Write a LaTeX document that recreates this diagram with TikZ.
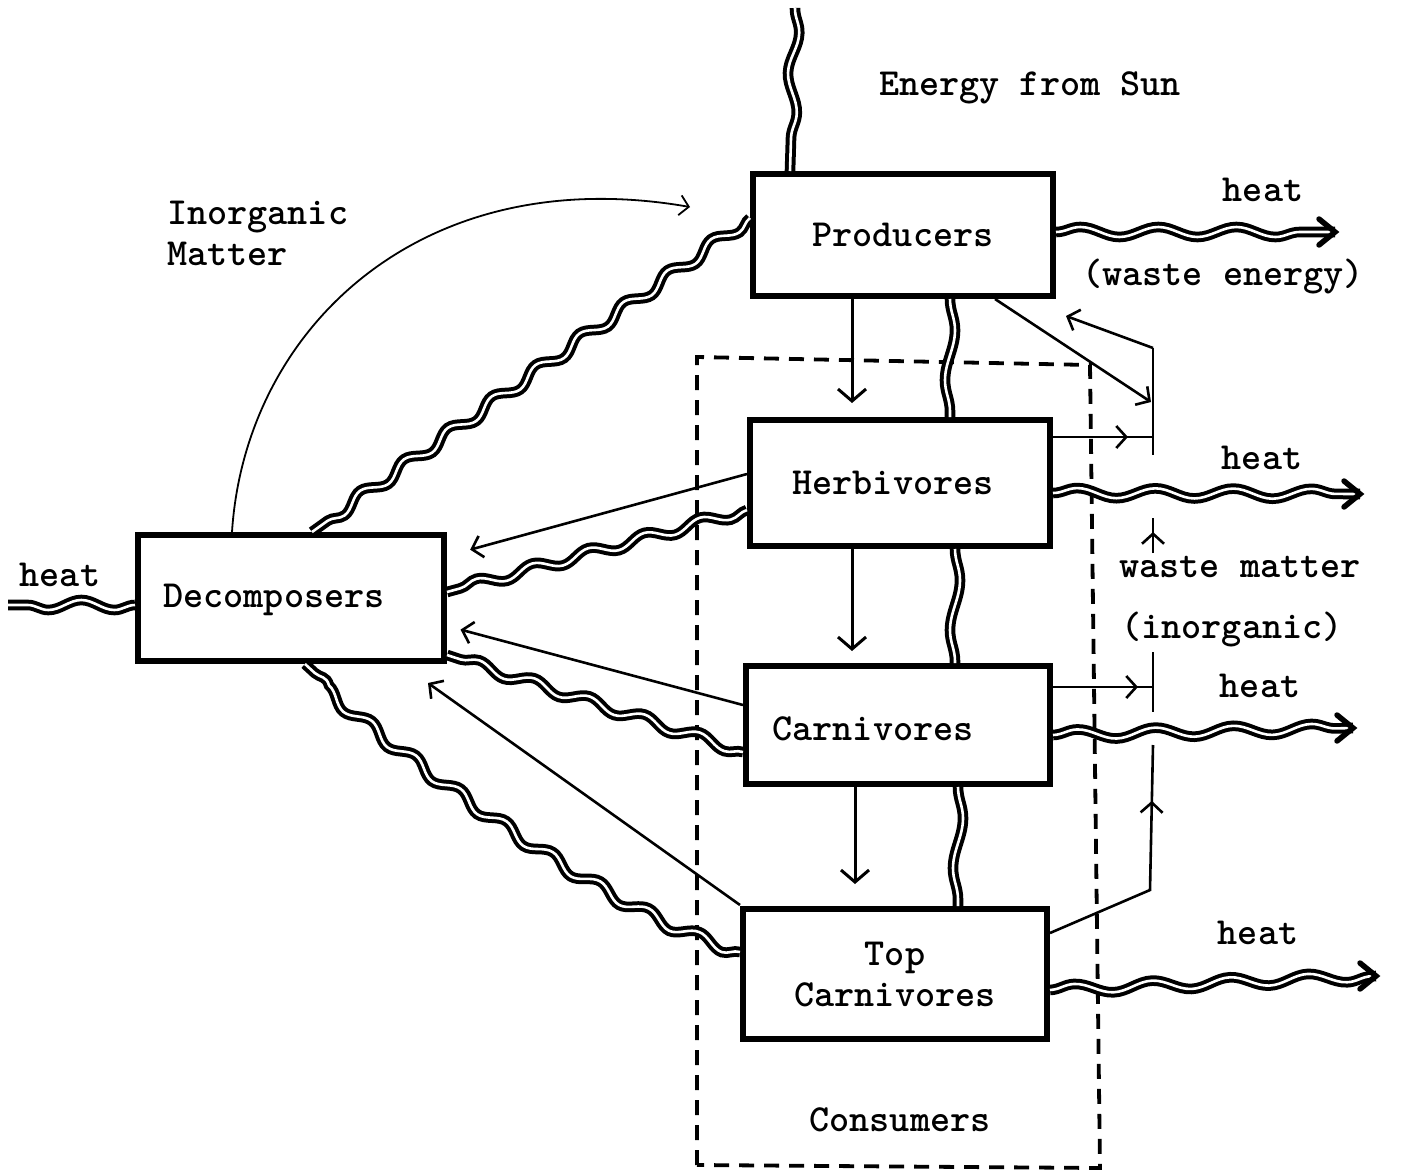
\documentclass[tikz,border=0pt]{standalone}
\usepackage{fontspec}
\setmainfont{lmmonolt10-bold.otf}
\usetikzlibrary{decorations.pathmorphing,decorations.markings,arrows.meta,calc}
\begin{document}
\begin{tikzpicture}[x=1pt,y=-1pt,
  lbl/.style={font=\fontsize{38.3}{41}\selectfont, inner sep=0pt},
  box/.style={draw, line width=6pt, inner sep=0pt, font=\fontsize{38.3}{41}\selectfont, align=center},
  wave/.style={decorate, decoration={snake, amplitude=5pt, segment length=62pt}, double=white, double distance=2.6pt, line width=4pt},
  heathead/.style={line width=5.5pt, line join=miter, line cap=round},
  arr/.style={line width=3pt, -{Straight Barb[length=12pt,width=28pt]}},
  sarr/.style={line width=2.6pt, -{Straight Barb[length=10pt,width=22pt]}},
  ln/.style={line width=2.6pt},
  midarr/.style={ln, postaction={decorate}, decoration={markings, mark=at position #1 with {\arrow{Straight Barb[length=10pt,width=22pt]}}}},
  midarr/.default=0.7,
  dashbox/.style={line width=3.8pt, dash pattern=on 15pt off 10pt},
]
\useasboundingbox (0,0) rectangle (1408,1175);

% boxes
\node[box, minimum width=300pt, minimum height=122pt] (prod) at (903,235) {Producers};
\node[box, minimum width=300pt, minimum height=126pt] (herb) at (900,483) {};
\node[lbl] (herblbl) at (893,483) {Herbivores};
\node[box, minimum width=304pt, minimum height=118pt] (carn) at (898,725) {};
\node[lbl] (carnlbl) at (873,729) {Carnivores};
\node[box, minimum width=304pt, minimum height=130pt] (top) at (895,974) {Top\\Carnivores};
\node[box, minimum width=306pt, minimum height=126pt] (dec) at (291,598) {};
\node[lbl] (declbl) at (274,600) {Decomposers};

% consumers dashed box
\draw[dashbox] (697,1165) -- (697,357) -- (1090,365) -- (1100,1168) -- cycle;
\node[lbl] (cons) at (900,1120) {Consumers};

% labels
\node[lbl] (sunlbl) at (1030,88) {Energy from Sun};
\node[lbl, align=left, anchor=west] (inorg) at (167,233) {Inorganic\\Matter};
\node[lbl] (h1) at (1263,190) {heat};
\node[lbl] (we) at (1223,277) {(waste energy)};
\node[lbl] (h2) at (1262,458) {heat};
\node[lbl] (wm) at (1240,567) {waste matter};
\node[lbl] (inor) at (1232,630) {(inorganic)};
\node[lbl] (h3) at (1260,686) {heat};
\node[lbl] (h4) at (1258,933) {heat};
\node[lbl] (h5) at (60,575) {heat};

% coordinates
\coordinate (sun) at (795,8);
\coordinate (hp) at (1335,232);
\coordinate (hh) at (1360,494);
\coordinate (hc) at (1353,728);
\coordinate (ht) at (1376,976);
\coordinate (hd) at (8,605);

% energy from sun
\draw[wave, decoration={segment length=80pt}] (sun) -- (prod.north -| 790,0);

% heat outflows
\draw[wave, decoration={segment length=78pt}] (prod.east |- 0,232) -- (hp);
\draw[heathead] ($(hp)+(-16,-13)$) -- (hp) -- ($(hp)+(-16,13)$);
\draw[wave, decoration={segment length=78pt}] (herb.east |- 0,493) -- (hh);
\draw[heathead] ($(hh)+(-16,-13)$) -- (hh) -- ($(hh)+(-16,13)$);
\draw[wave, decoration={segment length=78pt}] (carn.east |- 0,735) -- (hc);
\draw[heathead] ($(hc)+(-16,-13)$) -- (hc) -- ($(hc)+(-16,13)$);
\draw[wave, decoration={segment length=78pt}] (top.east |- 0,990) -- (ht);
\draw[heathead] ($(ht)+(-16,-13)$) -- (ht) -- ($(ht)+(-16,13)$);
\draw[wave, decoration={segment length=66pt}] (dec.west |- 0,605) -- (hd);

% energy down the chain
\draw[wave, decoration={segment length=100pt}] (prod.south -| 950,0) -- (herb.north -| 950,0);
\draw[wave, decoration={segment length=100pt}] (herb.south -| 955,0) -- (carn.north -| 955,0);
\draw[wave, decoration={segment length=100pt}] (carn.south -| 958,0) -- (top.north -| 958,0);

% matter down the chain
\draw[arr, shorten >=14pt] (prod.south -| 852,0) -- (herb.north -| 852,0);
\draw[arr, shorten >=12pt] (herb.south -| 852,0) -- (carn.north -| 852,0);
\draw[arr, shorten >=22pt] (carn.south -| 855,0) -- (top.north -| 855,0);

% energy to decomposers
\draw[wave, decoration={segment length=54pt, amplitude=5.5pt}] (prod.west |- 0,218) -- (dec.north -| 312,0);
\draw[wave, decoration={segment length=58pt}] (herb.west |- 0,510) -- (dec.east |- 0,592);
\draw[wave, decoration={segment length=58pt}] (carn.west |- 0,752) -- (dec.east |- 0,655);
\draw[wave, decoration={segment length=56pt, amplitude=5.5pt}] (top.west |- 0,952) .. controls (620,915) and (410,760) .. (dec.south -| 305,0);

% matter to decomposers
\draw[sarr, shorten >=24pt] (herb.west |- 0,474) -- (dec.east |- 0,556);
\draw[sarr, shorten >=14pt] (carn.west |- 0,705) -- (dec.east |- 0,626);
\draw[sarr] (top.west |- 0,905) -- ($(dec.south east)+(-19,19)$);

% inorganic matter back to producers
\draw[line width=1.8pt, -{Straight Barb[length=9pt,width=20pt]}] (dec.north -| 232,0) .. controls (245,330) and (420,160) .. ($(prod.west |- 0,207)+(-60,0)$);

% waste matter system
\coordinate (wtop) at (1153,348);
\coordinate (w1) at (1151,402);
\coordinate (w2) at (1153,437);
\coordinate (w3) at (1153,455);
\draw[sarr] (prod.south -| 995,0) -- (w1);
\draw[sarr] (wtop) -- ($(prod.south east)+(10,17)$);
\draw[ln] (wtop) -- (w3);
\draw[midarr=0.75] (herb.east |- 0,437) -- (w2);
\draw[midarr=0.6] (1153,553) -- (1153,518);
\draw[ln] (1153,652) -- (1153,712);
\draw[midarr=0.85] (carn.east |- 0,687) -- (1153,687);
\draw[midarr=0.78] (top.east |- 0,933) -- (1150,890) -- (1153,745);
\end{tikzpicture}
\end{document}
